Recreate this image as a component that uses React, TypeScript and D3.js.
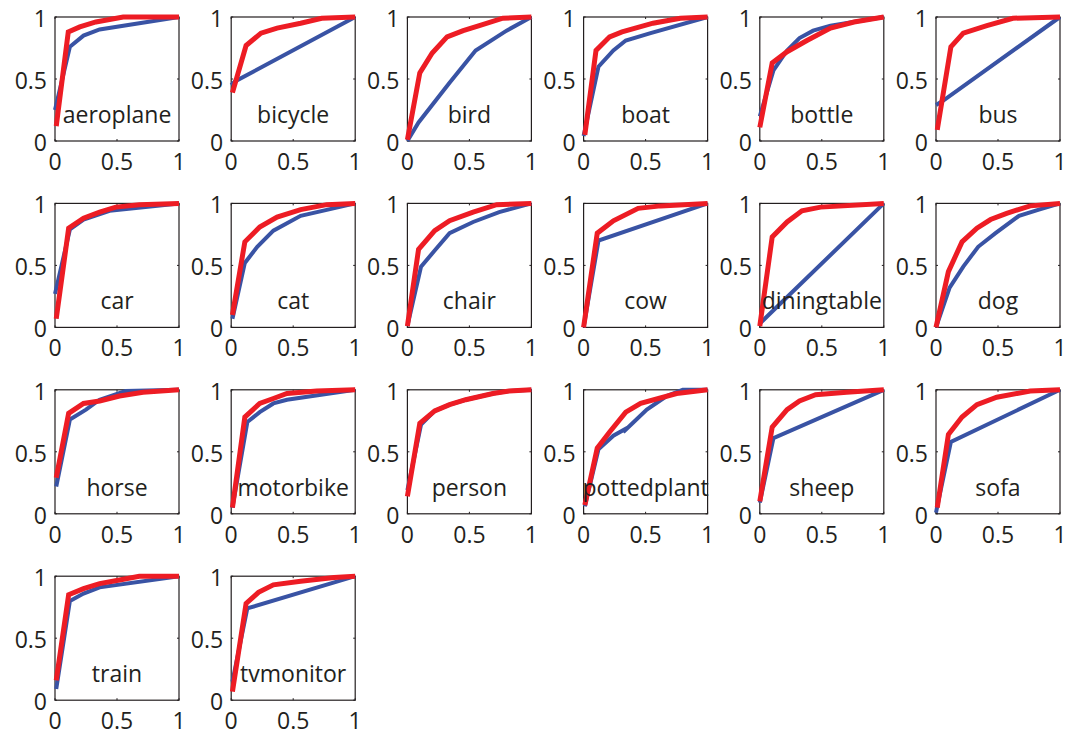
import { useRef, useEffect } from 'react';
import * as d3 from 'd3';

type Pt = [number, number];

const categories = [
  'aeroplane', 'bicycle', 'bird', 'boat', 'bottle', 'bus',
  'car', 'cat', 'chair', 'cow', 'diningtable', 'dog',
  'horse', 'motorbike', 'person', 'pottedplant', 'sheep', 'sofa',
  'train', 'tvmonitor',
];

// blue curve per category (fpr, tpr)
const blueRoc: Pt[][] = [
  [[0, 0.25], [0.12, 0.76], [0.23, 0.85], [0.36, 0.9], [1, 1]],
  [[0, 0.45], [0.03, 0.48], [1, 1]],
  [[0, 0], [0.09, 0.15], [0.34, 0.47], [0.55, 0.73], [0.8, 0.89], [1, 1]],
  [[0, 0.04], [0.12, 0.6], [0.24, 0.73], [0.34, 0.81], [0.54, 0.87], [1, 1]],
  [[0, 0.2], [0.11, 0.57], [0.22, 0.73], [0.32, 0.83], [0.43, 0.89], [0.57, 0.93], [1, 1]],
  [[0, 0.29], [0.05, 0.32], [1, 1]],
  [[0, 0.27], [0.12, 0.79], [0.23, 0.87], [0.44, 0.94], [1, 1]],
  [[0.01, 0.07], [0.11, 0.52], [0.21, 0.65], [0.34, 0.78], [0.56, 0.9], [1, 1]],
  [[0, 0.01], [0.11, 0.49], [0.22, 0.62], [0.34, 0.76], [0.53, 0.85], [0.74, 0.93], [1, 1]],
  [[0, 0], [0.12, 0.7], [1, 1]],
  [[0, 0.03], [0.05, 0.08], [1, 1]],
  [[0, 0], [0.11, 0.32], [0.22, 0.49], [0.34, 0.65], [0.48, 0.76], [0.67, 0.9], [0.83, 0.95], [1, 1]],
  [[0.01, 0.22], [0.12, 0.76], [0.25, 0.84], [0.36, 0.92], [0.57, 0.99], [1, 1]],
  [[0.01, 0.05], [0.13, 0.74], [0.23, 0.82], [0.34, 0.89], [0.45, 0.92], [1, 1]],
  [[0, 0.19], [0.11, 0.72], [0.22, 0.83], [0.34, 0.88], [0.47, 0.92], [0.69, 0.97], [0.82, 0.99], [1, 1]],
  [[0.01, 0.06], [0.12, 0.52], [0.24, 0.63], [0.33, 0.68], [0.32, 0.66], [0.51, 0.84], [0.67, 0.95], [0.8, 1], [1, 1]],
  [[0, 0.09], [0.11, 0.61], [1, 1]],
  [[0, 0.01], [0.12, 0.58], [1, 1]],
  [[0.01, 0.09], [0.12, 0.8], [0.23, 0.86], [0.36, 0.91], [1, 1]],
  [[0.01, 0.15], [0.13, 0.74], [1, 1]],
];

// red curve per category
const redRoc: Pt[][] = [
  [[0.01, 0.12], [0.107, 0.88], [0.2, 0.92], [0.33, 0.96], [0.55, 1], [1, 1]],
  [[0.01, 0.39], [0.12, 0.77], [0.24, 0.87], [0.37, 0.91], [0.56, 0.95], [0.73, 0.99], [1, 1]],
  [[0, 0.01], [0.1, 0.55], [0.2, 0.71], [0.32, 0.84], [0.45, 0.89], [0.58, 0.93], [0.77, 0.99], [1, 1]],
  [[0.01, 0.05], [0.1, 0.73], [0.21, 0.84], [0.31, 0.88], [0.56, 0.95], [0.78, 0.99], [1, 1]],
  [[0, 0.11], [0.1, 0.63], [0.22, 0.72], [0.38, 0.81], [0.57, 0.91], [0.76, 0.96], [1, 1]],
  [[0.01, 0.09], [0.12, 0.76], [0.22, 0.87], [0.41, 0.93], [0.62, 0.99], [1, 1]],
  [[0.01, 0.07], [0.11, 0.8], [0.23, 0.88], [0.36, 0.93], [0.49, 0.97], [0.68, 0.99], [1, 1]],
  [[0.01, 0.1], [0.11, 0.69], [0.23, 0.81], [0.37, 0.89], [0.56, 0.95], [0.77, 0.99], [1, 1]],
  [[0, 0.01], [0.09, 0.63], [0.22, 0.78], [0.34, 0.86], [0.53, 0.93], [0.72, 0.99], [1, 1]],
  [[0, 0], [0.11, 0.76], [0.24, 0.86], [0.44, 0.96], [0.62, 0.98], [1, 1]],
  [[0, 0.01], [0.1, 0.73], [0.22, 0.85], [0.34, 0.94], [0.49, 0.97], [1, 1]],
  [[0, 0], [0.1, 0.45], [0.21, 0.69], [0.33, 0.8], [0.44, 0.87], [0.57, 0.92], [0.76, 0.98], [1, 1]],
  [[0.01, 0.29], [0.11, 0.81], [0.23, 0.89], [0.36, 0.91], [0.52, 0.95], [0.71, 0.98], [1, 1]],
  [[0.01, 0.05], [0.11, 0.78], [0.23, 0.89], [0.34, 0.93], [0.45, 0.97], [0.69, 0.99], [1, 1]],
  [[0, 0.14], [0.1, 0.73], [0.22, 0.83], [0.34, 0.88], [0.47, 0.92], [0.69, 0.97], [0.82, 0.99], [1, 1]],
  [[0.01, 0.07], [0.11, 0.53], [0.21, 0.66], [0.34, 0.82], [0.46, 0.89], [0.75, 0.97], [1, 1]],
  [[0, 0.1], [0.1, 0.7], [0.22, 0.84], [0.32, 0.91], [0.45, 0.96], [0.7, 0.98], [1, 1]],
  [[0.01, 0.05], [0.1, 0.64], [0.21, 0.78], [0.33, 0.88], [0.49, 0.94], [0.76, 0.99], [1, 1]],
  [[0.01, 0.16], [0.11, 0.85], [0.23, 0.9], [0.36, 0.94], [0.52, 0.97], [0.68, 1], [1, 1]],
  [[0.01, 0.07], [0.12, 0.78], [0.22, 0.87], [0.34, 0.93], [0.56, 0.96], [0.83, 0.99], [1, 1]],
];

const tickValues = [0, 0.5, 1];
const tickLabels = ['0', '0.5', '1'];

const W = 1066;
const H = 736;
const cols = 6;
const boxSize = 124;
const left0 = 55;
const top0 = 17;
const colStep = 176.2;
const rowStep = 186.4;
const font = "'Open Sans', 'DejaVu Sans', sans-serif";

export default function App() {
  const ref = useRef<SVGSVGElement>(null);

  useEffect(() => {
    const svg = d3.select(ref.current);
    svg.selectAll('*').remove();

    const x = d3.scaleLinear().domain([0, 1]).range([0, boxSize]);
    const y = d3.scaleLinear().domain([0, 1]).range([boxSize, 0]);
    const line = d3.line<Pt>().x(d => x(d[0])).y(d => y(d[1]));

    categories.forEach((name, i) => {
      const col = i % cols;
      const row = Math.floor(i / cols);
      const g = svg.append('g')
        .attr('transform', `translate(${left0 + col * colStep},${top0 + row * rowStep})`);

      // box
      g.append('rect')
        .attr('width', boxSize).attr('height', boxSize)
        .attr('fill', '#fff').attr('stroke', '#231f20').attr('stroke-width', 1.2);

      // inner ticks on all four sides
      const t = g.append('g').attr('stroke', '#231f20').attr('stroke-width', 1);
      tickValues.forEach(v => {
        t.append('line').attr('x1', x(v)).attr('x2', x(v)).attr('y1', boxSize).attr('y2', boxSize - 2);
        t.append('line').attr('x1', x(v)).attr('x2', x(v)).attr('y1', 0).attr('y2', 2);
        t.append('line').attr('x1', 0).attr('x2', 2).attr('y1', y(v)).attr('y2', y(v));
        t.append('line').attr('x1', boxSize).attr('x2', boxSize - 2).attr('y1', y(v)).attr('y2', y(v));
      });

      g.append('path').datum(blueRoc[i])
        .attr('d', line).attr('fill', 'none')
        .attr('stroke', '#3953a4').attr('stroke-width', 4)
        .attr('stroke-linejoin', 'miter');

      g.append('path').datum(redRoc[i])
        .attr('d', line).attr('fill', 'none')
        .attr('stroke', '#ed1c24').attr('stroke-width', 5)
        .attr('stroke-linejoin', 'miter');

      g.append('text')
        .attr('x', boxSize / 2).attr('y', boxSize - 18)
        .attr('text-anchor', 'middle')
        .style('font-family', font).style('font-size', '23px').attr('fill', '#231f20')
        .text(name);

      // y tick labels
      g.selectAll('text.yt').data(tickValues).join('text')
        .attr('class', 'yt')
        .attr('x', -8).attr('y', d => y(d) + 10)
        .attr('text-anchor', 'end')
        .style('font-family', font).style('font-size', '23px').attr('fill', '#231f20')
        .text((d, j) => tickLabels[j]);

      // x tick labels
      g.selectAll('text.xt').data(tickValues).join('text')
        .attr('class', 'xt')
        .attr('x', d => x(d)).attr('y', boxSize + 29)
        .attr('text-anchor', 'middle')
        .style('font-family', font).style('font-size', '23px').attr('fill', '#231f20')
        .text((d, j) => tickLabels[j]);
    });
  }, []);

  return (
    <svg ref={ref} width={W} height={H}
      style={{ position: 'absolute', left: 0, top: 0, background: '#fff' }} />
  );
}
